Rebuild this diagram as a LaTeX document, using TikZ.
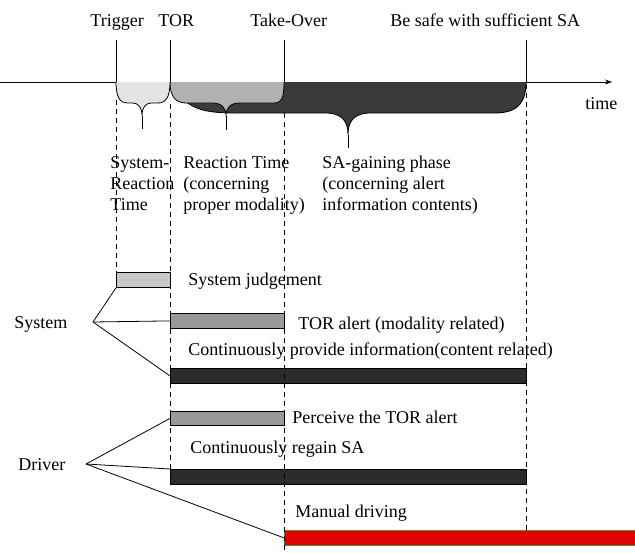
\documentclass[tikz,border=0pt]{standalone}
\usepackage{fontspec}
\setmainfont{Liberation Serif}
\usetikzlibrary{arrows.meta}
\definecolor{lightfill}{HTML}{E4E4E4}
\definecolor{midfill}{HTML}{B2B2B2}
\definecolor{darkfill}{HTML}{3A3A3A}
\definecolor{judgegray}{HTML}{C8C8C8}
\definecolor{alertgray}{HTML}{999999}
\definecolor{barblack}{HTML}{2B2B2B}
\definecolor{manualred}{HTML}{E00000}
\definecolor{manualedge}{HTML}{5B8C3C}
\begin{document}
\begin{tikzpicture}[x=1pt,y=-1pt,line width=0.8pt,
	lbl/.style={anchor=base west, inner sep=0pt, align=left, font=\fontsize{18}{21}\selectfont},
	bar/.style={draw, anchor=north west, inner sep=0pt, minimum height=15pt},
	guide/.style={dash pattern=on 5pt off 4pt, line width=0.7pt}]
	\useasboundingbox (0,0) rectangle (635,554);
	% phases below the time axis
	\filldraw[fill=darkfill] (170,82) .. controls (185,108) and (200,113) .. (235,113) -- (325,113) .. controls (343,113) and (348,122) .. (348,135) .. controls (348,122) and (353,113) .. (371,113) -- (495,113) .. controls (520,113) and (526,100) .. (526,82);
	\filldraw[fill=midfill] (170,82) .. controls (170,97) and (176,103) .. (186,103) -- (212,103) .. controls (222,103) and (226,108) .. (226,116) .. controls (226,108) and (230,103) .. (240,103) -- (274,103) .. controls (282,103) and (284,97) .. (284,82);
	\filldraw[fill=lightfill] (116,82) .. controls (116,97) and (120,103) .. (127,103) -- (132,103) .. controls (139,103) and (142,108) .. (142,116) .. controls (142,108) and (145,103) .. (152,103) -- (158,103) .. controls (166,103) and (170,97) .. (170,82);
	\draw (142,116) -- (142,129);
	\draw (226,116) -- (226,130);
	\draw (348,135) -- (348,148);
	% time axis and events
	\draw (0,82) -- (116,82);
	\draw[-{Stealth[length=7pt,width=5pt]}] (526,82) -- (612,82);
	\draw (116,40) -- (116,82);
	\draw (170,40) -- (170,82);
	\draw (284,40) -- (284,82);
	\draw (526,40) -- (526,82);
	\node[lbl] (trig) at (90,27) {Trigger};
	\node[lbl] (tor) at (158,27) {TOR};
	\node[lbl] (take) at (250,27) {Take-Over};
	\node[lbl] (safe) at (390,27) {Be safe with sufficient SA};
	\node[lbl] (time) at (585,109) {time};
	\node[lbl] (sysrt) at (110,210) {System-\\Reaction\\Time};
	\node[lbl] (react) at (183,210) {Reaction Time\\(concerning\\proper modality)};
	\node[lbl] (sagain) at (322,210) {SA-gaining phase\\(concerning alert\\information contents)};
	% bars
	\node[bar, fill=judgegray, minimum width=54pt] (judge) at (116,272) {};
	\node[bar, fill=alertgray, minimum width=114pt] (toralert) at (170,313) {};
	\node[bar, fill=barblack, minimum width=356pt] (provide) at (170,368) {};
	\node[bar, fill=alertgray, minimum width=114pt, minimum height=14pt] (perceive) at (170,411) {};
	\node[bar, fill=barblack, minimum width=356pt] (regain) at (170,469) {};
	\node[bar, fill=manualred, draw=manualedge, minimum width=356pt] (manual) at (284,530) {};
	\node[lbl] (judgetxt) at (188,285) {System judgement};
	\node[lbl] (alerttxt) at (298,329) {TOR alert (modality related)};
	\node[lbl] (providetxt) at (188,355) {Continuously provide information(content related)};
	\node[lbl] (perceivetxt) at (292,423) {Perceive the TOR alert};
	\node[lbl] (regaintxt) at (190,453) {Continuously regain SA};
	\node[lbl] (manualtxt) at (295,517) {Manual driving};
	% guides
	\draw[guide] (116,100) -- (judge.north west);
	\draw[guide] (170,104) -- (regain.north west);
	\draw[guide] (284,113) -- (284,554);
	\draw[guide] (526,84) -- (526,530);
	% actors
	\node[lbl] (sys) at (14,328) {System};
	\node[lbl] (drv) at (18,470) {Driver};
	\coordinate (sysp) at (93,322);
	\coordinate (drvp) at (86,464);
	\draw (sysp) -- (judge.south west);
	\draw (sysp) -- (toralert.west);
	\draw (sysp) -- (provide.west);
	\draw (drvp) -- (perceive.west);
	\draw (drvp) -- (regain.north west);
	\draw (drvp) -- (manual.west);
\end{tikzpicture}
\end{document}
